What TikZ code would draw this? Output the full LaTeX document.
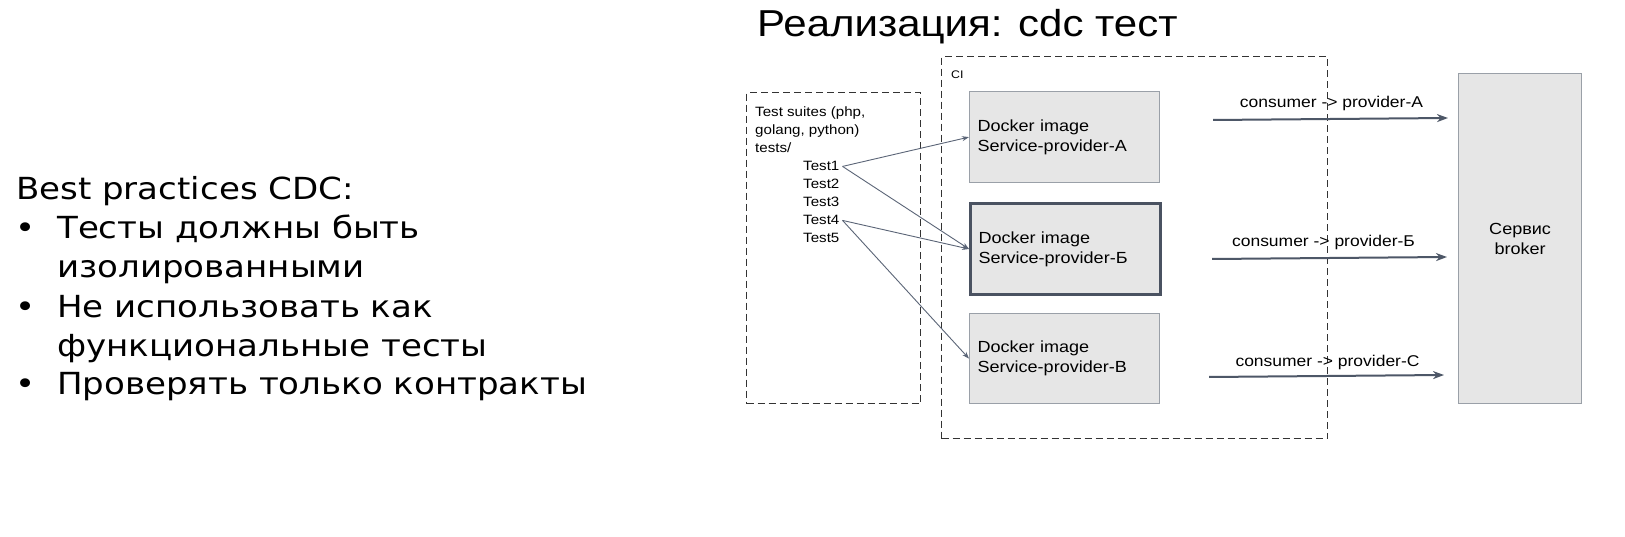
\documentclass[tikz,border=0pt]{standalone}
\usepackage{fontspec}
\setmainfont{Liberation Sans}[FakeStretch=1.12]
\newfontfamily\dejavu{DejaVu Sans}[FakeStretch=1.12]
\usetikzlibrary{arrows.meta}
\definecolor{boxfill}{HTML}{E6E6E6}
\definecolor{boxline}{HTML}{9AA0A8}
\definecolor{thickline}{HTML}{4A5261}
\definecolor{arrowcol}{HTML}{4D5767}
\definecolor{thinarrow}{HTML}{5B6577}
\definecolor{dashcol}{HTML}{333333}
\tikzset{
  dashbox/.style={draw=dashcol, line width=1.3pt, dash pattern=on 7pt off 4pt, inner sep=0pt, anchor=north west},
  dockbox/.style={draw=boxline, line width=1.2pt, fill=boxfill, anchor=north west, text width=174pt, inner xsep=8pt, minimum height=91pt, align=left, font=\fontsize{16.1}{20}\selectfont},
  thickbox/.style={dockbox, draw=thickline, line width=3pt},
  brokerbox/.style={draw=boxline, line width=1.2pt, fill=boxfill, anchor=north west, minimum width=123pt, minimum height=330pt, align=center, font=\fontsize{16.1}{20}\selectfont},
  suitetxt/.style={anchor=base west, inner sep=0pt, font=\fontsize{13.5}{18}\selectfont},
  testtxt/.style={anchor=base west, inner sep=3pt, font=\fontsize{13.5}{18}\selectfont},
  testarrow/.style={draw=thinarrow, line width=0.9pt, -{Stealth[length=7pt,width=5pt]}},
  consarrow/.style={draw=arrowcol, line width=2pt, -{Stealth[length=11pt,width=8pt,inset=3.5pt]}},
  conslabel/.style={anchor=base, inner sep=0pt, font=\fontsize{15.6}{20}\selectfont},
  lefttxt/.style={anchor=base west, inner sep=0pt, font=\dejavu\fontsize{30.4}{34}\selectfont},
}
\begin{document}
\begin{tikzpicture}[x=1pt,y=-1pt]
\useasboundingbox (0,0) rectangle (1625,537);
\fill[white] (0,0) rectangle (1625,537);

% title
\node[anchor=base west, inner sep=0pt, font=\fontsize{37.5}{42}\selectfont] (title) at (757,37) {Реализация: cdc тест};

% left text
\node[lefttxt] (l1) at (16,200) {Best practices CDC:};
\node[lefttxt] (b1) at (15,239) {•};
\node[lefttxt] (l2) at (57,239) {Тесты должны быть};
\node[lefttxt] (l3) at (57,278) {изолированными};
\node[lefttxt] (b2) at (15,318) {•};
\node[lefttxt] (l4) at (57,318) {Не использовать как};
\node[lefttxt] (l5) at (57,356) {функциональные тесты};
\node[lefttxt] (b3) at (15,394) {•};
\node[lefttxt] (l6) at (57,394) {Проверять только контракты};

% containers
\node[dashbox, minimum width=174pt, minimum height=311pt] (suite) at (746,92) {};
\node[dashbox, minimum width=386pt, minimum height=382pt] (ci) at (941,56) {};
\node[anchor=base west, inner sep=0pt, font=\fontsize{11}{13}\selectfont] (cilabel) at (951,79) {CI};

% suite text
\node[suitetxt] (s1) at (755,117) {Test suites (php,};
\node[suitetxt] (s2) at (755,135) {golang, python)};
\node[suitetxt] (s3) at (755,153) {tests/};
\node[testtxt] (t1) at (800,171) {Test1};
\node[testtxt] (t2) at (800,189) {Test2};
\node[testtxt] (t3) at (800,207) {Test3};
\node[testtxt] (t4) at (800,225) {Test4};
\node[testtxt] (t5) at (800,243) {Test5};

% docker boxes
\node[dockbox] (A) at (969,91) {Docker image\\Service-provider-A};
\node[thickbox] (B) at (969,202) {Docker image\\Service-provider-Б};
\node[dockbox, minimum height=90pt] (V) at (969,313) {Docker image\\Service-provider-В};

% broker
\node[brokerbox] (broker) at (1458,73) {Сервис\\broker};

% test arrows
\draw[testarrow] (t1.east) -- (A.west);
\draw[testarrow] (t1.east) -- (B.west);
\draw[testarrow] (t4.east) -- (B.west);
\draw[testarrow] (t4.east) -- (V.west);

% consumer arrows
\coordinate (ca1) at (1213,120);
\coordinate (ca2) at (1448,118);
\coordinate (cb1) at (1212,259);
\coordinate (cb2) at (1447,257);
\coordinate (cc1) at (1209,377);
\coordinate (cc2) at (1444,375);
\draw[consarrow] (ca1) -- (ca2);
\draw[consarrow] (cb1) -- (cb2);
\draw[consarrow] (cc1) -- (cc2);
\node[conslabel] (la) at (1331.5,108) {consumer -> provider-A};
\node[conslabel] (lb) at (1323.5,247) {consumer -> provider-Б};
\node[conslabel] (lc) at (1327.5,366) {consumer -> provider-C};
\end{tikzpicture}
\end{document}
